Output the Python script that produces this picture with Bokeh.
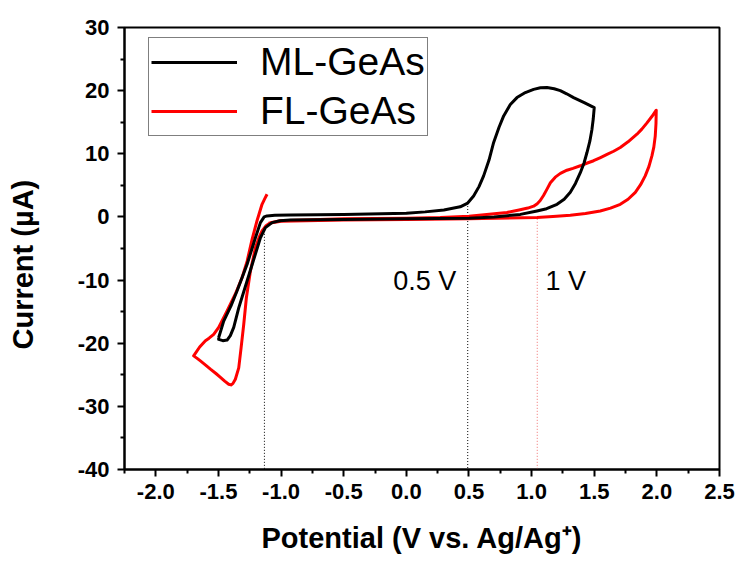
from bokeh.plotting import figure
from bokeh.models import Legend, LegendItem, FixedTicker, PrintfTickFormatter, Label, Range1d
from bokeh.embed import file_html
from bokeh.resources import INLINE

# ---- data ----
ml_v = [-1.498, -1.458, -1.40, -1.351, -1.271, -1.205, -1.165, -1.135, -1.112, -1.05, -0.926, -0.5,
        0.0, 0.15, 0.3, 0.43, 0.49, 0.537, 0.58, 0.617, 0.66, 0.697, 0.74, 0.777, 0.83, 0.883,
        0.95, 1.016, 1.07, 1.123, 1.18, 1.229, 1.28, 1.335, 1.42, 1.5,
        1.492, 1.482, 1.465, 1.442, 1.418, 1.389, 1.35, 1.309, 1.26, 1.203, 1.12, 1.043, 0.91,
        0.7, 0.5, 0.0, -0.5, -0.926, -1.01, -1.072, -1.125, -1.165, -1.205, -1.271, -1.338,
        -1.378, -1.405, -1.431, -1.465, -1.498, -1.498]
ml_i = [-19.1, -16.5, -14.1, -11.7, -7.5, -3.3, -0.9, 0.0, 0.16, 0.25, 0.3, 0.4,
        0.6, 0.8, 1.1, 1.6, 2.2, 3.3, 4.8, 6.5, 9.0, 11.8, 14.2, 16.0, 17.8, 18.9,
        19.7, 20.2, 20.45, 20.5, 20.3, 20.0, 19.5, 18.9, 18.1, 17.3,
        15.5, 13.9, 12.0, 10.2, 8.5, 7.0, 5.3, 3.9, 2.8, 2.0, 1.3, 0.95, 0.4,
        0.0, -0.2, -0.3, -0.4, -0.5, -0.6, -0.9, -1.7, -3.3, -5.9, -10.1, -14.4,
        -17.5, -18.8, -19.5, -19.6, -19.4, -19.1]

fl_v = [-1.112, -1.13, -1.152, -1.172, -1.192, -1.231, -1.271, -1.311, -1.365, -1.431, -1.498,
        -1.538, -1.575, -1.604, -1.65, -1.698, -1.67, -1.644, -1.6, -1.564, -1.52, -1.484, -1.45,
        -1.418, -1.40, -1.385, -1.365, -1.338, -1.319, -1.298, -1.277, -1.245, -1.205, -1.175,
        -1.152, -1.12, -1.085, -1.006, -0.5, 0.0, 0.271, 0.5, 0.803, 0.9, 0.97, 1.016, 1.045,
        1.069, 1.095, 1.123, 1.15, 1.189, 1.23, 1.282, 1.33, 1.389, 1.44, 1.495, 1.55, 1.602,
        1.655, 1.708, 1.77, 1.841, 1.88, 1.921, 1.96, 1.995,
        1.993, 1.987, 1.976, 1.961, 1.937, 1.907, 1.87, 1.828, 1.77, 1.708, 1.63, 1.548, 1.43,
        1.309, 1.17, 1.043, 0.5, 0.0, -0.5, -1.0, -1.1]
fl_i = [3.6, 2.9, 2.0, 0.7, -0.6, -3.5, -7.0, -9.6, -12.2, -14.9, -17.5,
        -18.6, -19.2, -19.6, -20.6, -22.0, -22.4, -22.8, -23.5, -24.1, -24.8, -25.4, -26.0,
        -26.5, -26.6, -26.4, -25.7, -23.9, -20.7, -17.0, -12.8, -8.6, -4.9, -3.2,
        -2.2, -1.4, -0.9, -0.6, -0.3, -0.2, -0.1, 0.1, 0.7, 1.1, 1.4, 1.7, 2.1,
        2.6, 3.4, 4.4, 5.4, 6.3, 6.9, 7.4, 7.7, 8.1, 8.5, 8.9, 9.4, 9.9,
        10.4, 11.0, 11.9, 13.1, 13.9, 14.9, 15.9, 16.9,
        14.8, 12.8, 11.1, 9.7, 8.0, 6.5, 5.1, 3.9, 2.8, 2.0, 1.4, 0.95, 0.55,
        0.27, 0.05, -0.1, -0.3, -0.4, -0.5, -0.7, -1.0]

guide_v = [-1.133, 0.49, 1.045]
guide_top = [-2.2, 2.2, -0.3]
guide_colors = ["#000000", "#000000", "#f07070"]

note_text = ["0.5 V", "1 V"]
note_v = [-0.104, 1.11]
note_i = [-10.2, -10.2]

x_ticks = [-2.0, -1.5, -1.0, -0.5, 0.0, 0.5, 1.0, 1.5, 2.0, 2.5]
x_minor = [-2.25, -1.75, -1.25, -0.75, -0.25, 0.25, 0.75, 1.25, 1.75, 2.25]
y_ticks = [-40, -30, -20, -10, 0, 10, 20, 30]
y_minor = [-35, -25, -15, -5, 5, 15, 25]

FONT = "Liberation Sans"

p = figure(width=735, height=563, output_backend="svg", toolbar_location=None,
           x_range=Range1d(-2.25, 2.5), y_range=Range1d(-40, 30),
           min_border_left=124, min_border_right=16, min_border_top=27, min_border_bottom=94)
p.xgrid.visible = False
p.ygrid.visible = False
p.outline_line_color = "black"
p.outline_line_width = 2
p.background_fill_color = "white"

for ax in (p.xaxis[0], p.yaxis[0]):
    ax.axis_line_width = 2
    ax.major_tick_line_width = 2
    ax.minor_tick_line_width = 2
    ax.major_tick_out = 7
    ax.major_tick_in = 0
    ax.minor_tick_out = 4
    ax.minor_tick_in = 0
    ax.major_label_text_font = FONT
    ax.major_label_text_font_style = "bold"
    ax.major_label_text_font_size = "22px"
    ax.major_label_text_color = "black"
    ax.axis_label_text_font = FONT
    ax.axis_label_text_font_style = "bold"
    ax.axis_label_text_font_size = "29px"
    ax.axis_label_text_color = "black"

p.xaxis.ticker = FixedTicker(ticks=x_ticks, minor_ticks=x_minor)
p.yaxis.ticker = FixedTicker(ticks=y_ticks, minor_ticks=y_minor)
p.xaxis.formatter = PrintfTickFormatter(format="%.1f")
p.yaxis.formatter = PrintfTickFormatter(format="%d")
p.xaxis.major_label_standoff = 7
p.yaxis.major_label_standoff = 8
p.xaxis.axis_label = "Potential (V vs. Ag/Ag\u207a)"
p.yaxis.axis_label = "Current (\u00b5A)\u00a0\u00a0\u00a0\u00a0"
p.xaxis.axis_label_standoff = 20
p.yaxis.axis_label_standoff = 36

# guide lines
for v, top, c in zip(guide_v, guide_top, guide_colors):
    p.segment(x0=[v], y0=[top], x1=[v], y1=[-40], line_color=c, line_width=1, line_dash="1 2")

r_fl = p.line(fl_v, fl_i, line_color="#ff0000", line_width=3, line_join="round")
r_ml = p.line(ml_v, ml_i, line_color="#000000", line_width=3, line_join="round")

for t, x, y in zip(note_text, note_v, note_i):
    p.add_layout(Label(x=x, y=y, text=t, text_font=FONT, text_font_size="27px",
                       text_baseline="alphabetic", text_color="black"))

legend = Legend(items=[LegendItem(label="ML-GeAs", renderers=[r_ml]),
                       LegendItem(label="FL-GeAs", renderers=[r_fl])],
                location=(24, 333), border_line_color="black", border_line_width=1,
                background_fill_color="white", background_fill_alpha=1.0,
                padding=2, spacing=5, margin=0,
                glyph_width=86, glyph_height=44, label_height=44, label_standoff=23,
                label_text_font=FONT, label_text_font_size="39px", label_text_color="black")
p.add_layout(legend)

open("out.html", "w").write(file_html(p, INLINE))
